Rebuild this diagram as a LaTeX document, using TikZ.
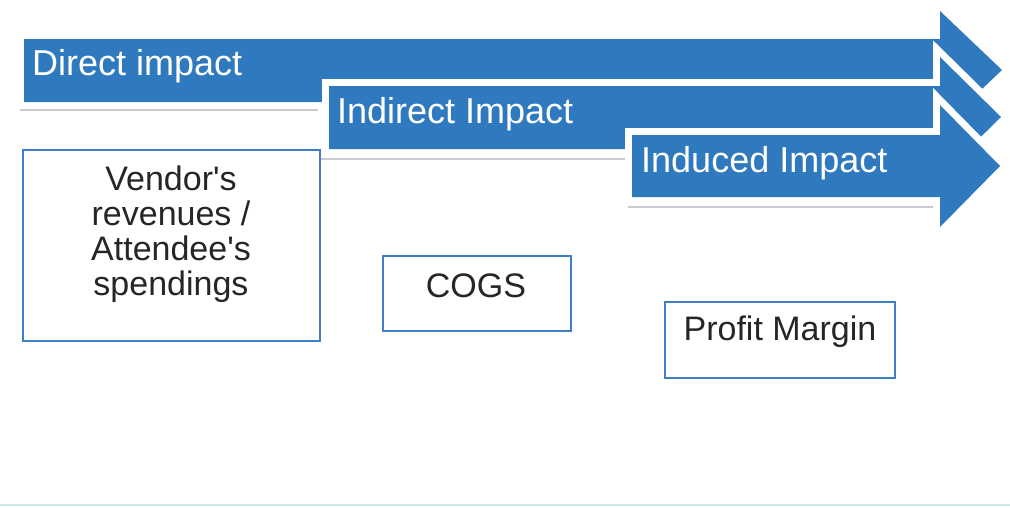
\documentclass[tikz,border=0pt]{standalone}
\usepackage{fontspec}
\setmainfont{Liberation Sans}[Ligatures=TeXOff]
\definecolor{arrowblue}{HTML}{2F79BE}
\definecolor{boxblue}{HTML}{3F7FC6}
\definecolor{txt}{HTML}{262626}
\definecolor{shadowgray}{HTML}{C8CCD2}
\definecolor{bottomline}{HTML}{CDE6EA}
\begin{document}
\begin{tikzpicture}[x=1pt,y=-1pt,
  arrowfill/.style={fill=arrowblue},
  arrowrim/.style={draw=white,line width=14pt,line join=miter},
  arrowtext/.style={anchor=base west,inner sep=0pt,text=white,font=\fontsize{36}{40}\selectfont},
  boxframe/.style={draw=boxblue,line width=2.5pt,inner sep=0pt},
  boxtext/.style={inner sep=0pt,text=txt,align=center,font=\fontsize{34}{35}\selectfont},
  shadowline/.style={draw=shadowgray,line width=1.2pt}]
\useasboundingbox (0,0) rectangle (1010,507);
\fill[white] (0,0) rectangle (1010,507);

% shadow lines under arrow bodies
\draw[shadowline] (20,110) -- (318,110);
\draw[shadowline] (320,159) -- (625,159);
\draw[shadowline] (628,207) -- (935,207);

% arrow 1
\path[arrowfill] (24,39) -- (940,39) -- (940,11) -- (1002,70) -- (940,129) -- (940,102) -- (24,102) -- cycle;
% arrow 2
\path[arrowrim] (329,86) -- (940,86) -- (940,57) -- (1001,117) -- (940,177) -- (940,149) -- (329,149) -- cycle;
\path[arrowfill] (329,86) -- (940,86) -- (940,57) -- (1001,117) -- (940,177) -- (940,149) -- (329,149) -- cycle;
% arrow 3
\path[arrowrim] (632,135) -- (940,135) -- (940,105) -- (1000,166) -- (940,227) -- (940,197) -- (632,197) -- cycle;
\path[arrowfill] (632,135) -- (940,135) -- (940,105) -- (1000,166) -- (940,227) -- (940,197) -- (632,197) -- cycle;

\node[arrowtext] (direct) at (32,75) {Direct impact};
\node[arrowtext] (indirect) at (337,123) {Indirect Impact};
\node[arrowtext] (induced) at (641,172) {Induced Impact};

% boxes
\node[boxframe,minimum width=297pt,minimum height=191pt] (vendorbox) at (171.5,245.5) {};
\node[boxtext] (vendortext) at (171,234) {Vendor's\\revenues /\\Attendee's\\spendings};

\node[boxframe,minimum width=188pt,minimum height=75pt] (cogsbox) at (477,293.5) {};
\node[boxtext,anchor=base] (cogstext) at (476,297) {COGS};

\node[boxframe,minimum width=230pt,minimum height=76pt] (profitbox) at (780,340) {};
\node[boxtext,anchor=base] (profittext) at (780,340) {Profit Margin};

% faint line at the bottom
\draw[draw=bottomline,line width=2pt] (0,505) -- (1010,505);
\end{tikzpicture}
\end{document}
